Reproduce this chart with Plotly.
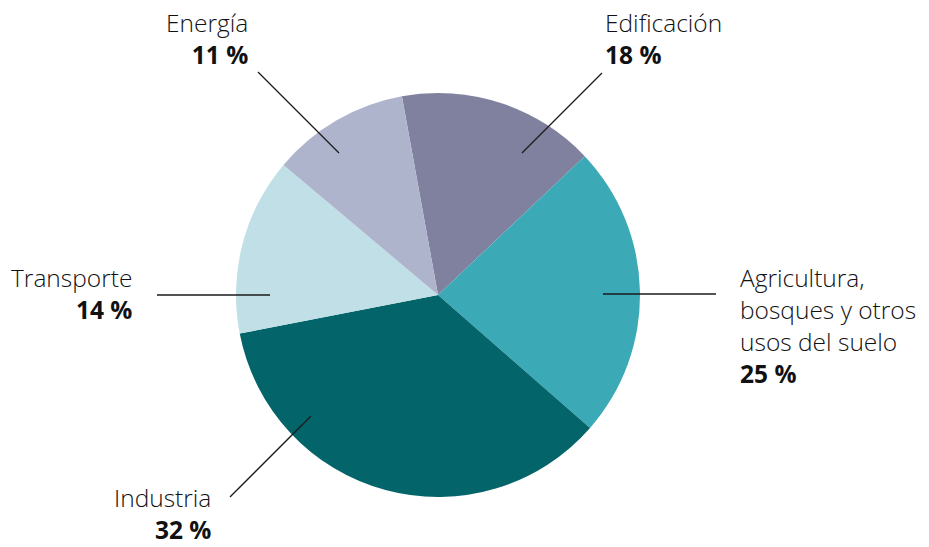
import plotly.graph_objects as go

# ---- data ----
categories = ["Edificación", "Agricultura,<br>bosques y otros<br>usos del suelo", "Industria", "Transporte", "Energía"]
pct_labels = [18, 25, 32, 14, 11]            # percentages printed on the chart
slice_shares = [15.8, 23.5, 35.5, 14.2, 11.0]  # slice sizes as drawn in the picture
colors = ["#80819f", "#3ca9b7", "#03646a", "#c0dfe6", "#afb4cd"]

W, H = 929, 547
CX, CY, R = 438, 295, 202

def px(x):
    return x / W

def py(y):
    return 1 - y / H

fig = go.Figure(go.Pie(
    labels=[c.replace("<br>", " ") for c in categories],
    values=slice_shares,
    sort=False,
    direction="clockwise",
    rotation=-10.3,
    marker=dict(colors=colors, line=dict(width=0)),
    textinfo="none",
    hoverinfo="label",
    showlegend=False,
    domain=dict(x=[px(CX - R), px(CX + R)], y=[py(CY + R), py(CY - R)]),
))

# label placement (pixel positions): (text anchor x, text top y, xanchor, line start, line end)
label_layout = [
    (603, 4, "left", (522, 153), (602, 73)),
    (738, 259, "left", (603, 294), (716, 294)),
    (213, 479, "right", (311, 416), (230, 497)),
    (134, 259, "right", (270, 295), (157, 295)),
    (250, 4, "right", (339, 153), (258, 72)),
]

FONT = "'Open Sans', Lato, sans-serif"
for cat, pct, (tx, ty, xa, p0, p1) in zip(categories, pct_labels, label_layout):
    fig.add_annotation(
        x=px(tx), y=py(ty), xref="paper", yref="paper",
        xanchor=xa, yanchor="top", align=xa,
        text=f"{cat}<br><b>{pct} %</b>",
        showarrow=False,
        font=dict(family=FONT, size=24.5, color="#111111", weight=300),
    )
    fig.add_shape(
        type="line", xref="paper", yref="paper",
        x0=px(p0[0]), y0=py(p0[1]), x1=px(p1[0]), y1=py(p1[1]),
        line=dict(color="#1a1a1a", width=1.3),
    )

fig.update_layout(
    width=W, height=H,
    margin=dict(l=0, r=0, t=0, b=0),
    paper_bgcolor="white", plot_bgcolor="white",
)

fig.write_html("out.html", config={"displayModeBar": False},
               post_script="document.body.style.margin='0';")
